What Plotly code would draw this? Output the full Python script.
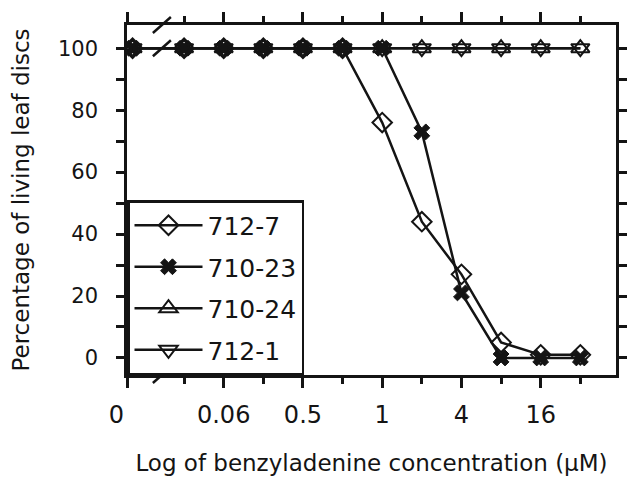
import plotly.graph_objects as go

# positions of the 12 concentrations along the broken log axis
x_pos = [-0.3, 1, 2, 3, 4, 5, 6, 7, 8, 9, 10, 11]

series_names = ["712-7", "710-23", "710-24", "712-1"]
s_712_7 = [100, 100, 100, 100, 100, 100, 76, 44, 27, 5, 1, 1]
s_710_23 = [100, 100, 100, 100, 100, 100, 100, 73, 21, 0, 0, 0]
s_710_24 = [100, 100, 100, 100, 100, 100, 100, 100, 100, 100, 100, 100]
s_712_1 = [100, 100, 100, 100, 100, 100, 100, 100, 100, 100, 100, 100]

x_tickvals = [-0.42, 2, 4, 6, 8, 10]
x_ticktext = ["0\u00a0\u00a0\u00a0", "0.06", "0.5", "1", "4", "16"]
x_minor_ticks = [1, 3, 5, 7, 9, 11]
y_tickvals = [0, 20, 40, 60, 80, 100]

BREAK_X = 0.44
INK = "#141414"
FONT = "DejaVu Sans"

fig = go.Figure()
styles = [
    dict(symbol="diamond-open", size=15, line=dict(width=2, color=INK), color=INK),
    dict(symbol="x", size=14, line=dict(width=1, color=INK), color=INK),
    dict(symbol="triangle-up-open", size=16, line=dict(width=2, color=INK), color=INK),
    dict(symbol="triangle-down-open", size=16, line=dict(width=2, color=INK), color=INK),
]
for name, ys, mk in zip(series_names, [s_712_7, s_710_23, s_710_24, s_712_1], styles):
    fig.add_trace(go.Scatter(
        x=x_pos, y=ys, name=name, mode="lines+markers",
        line=dict(color=INK, width=2.5), marker=mk, legendgroup=name,
    ))

axis_common = dict(
    showline=True, linecolor=INK, linewidth=2.5, mirror="ticks",
    ticks="outside", tickcolor=INK, tickwidth=2.5,
    showgrid=False, zeroline=False, automargin=False,
)
fig.update_xaxes(
    range=[-0.44, 11.9], tickmode="array", tickvals=x_tickvals, ticktext=x_ticktext,
    ticklen=10, ticklabelstandoff=6,
    minor=dict(tickvals=x_minor_ticks, ticks="outside", ticklen=6, tickcolor=INK, tickwidth=2.5),
    tickfont=dict(family=FONT, size=24, color=INK),
    title=dict(text="Log of benzyladenine concentration (\u00b5M)",
               font=dict(family=FONT, size=23, color=INK), standoff=28),
    **axis_common,
)
fig.update_yaxes(
    range=[-5.5, 107.5], tickmode="array", tickvals=y_tickvals,
    ticklen=8, ticklabelstandoff=14,
    minor=dict(dtick=10, tick0=0, ticks="outside", ticklen=8, tickcolor=INK, tickwidth=2.5),
    tickfont=dict(family=FONT, size=21, color=INK),
    title=dict(text="Percentage of living leaf discs",
               font=dict(family=FONT, size=23, color=INK), standoff=22),
    **axis_common,
)

# axis-break slashes
slash = dict(type="line", xref="x", xsizemode="pixel", xanchor=BREAK_X,
             ysizemode="pixel", x0=-9, x1=9, y0=-8, y1=8,
             line=dict(color=INK, width=2.5))
fig.add_shape(**slash, yref="paper", yanchor=1)
fig.add_shape(**slash, yref="y", yanchor=100)
fig.add_shape(**slash, yref="paper", yanchor=0)

fig.update_layout(
    width=633, height=479,
    margin=dict(l=127, r=17, t=25, b=104, autoexpand=False),
    paper_bgcolor="white", plot_bgcolor="white",
    font=dict(family=FONT, color=INK),
    legend=dict(
        x=0, y=0, xanchor="left", yanchor="bottom",
        bgcolor="white", bordercolor=INK, borderwidth=2.5,
        font=dict(family=FONT, size=25, color=INK),
        traceorder="grouped", tracegroupgap=6, itemwidth=68,
    ),
)

fig.write_html("out.html", config={"displayModeBar": False},
               post_script="document.body.style.margin='0px';")
